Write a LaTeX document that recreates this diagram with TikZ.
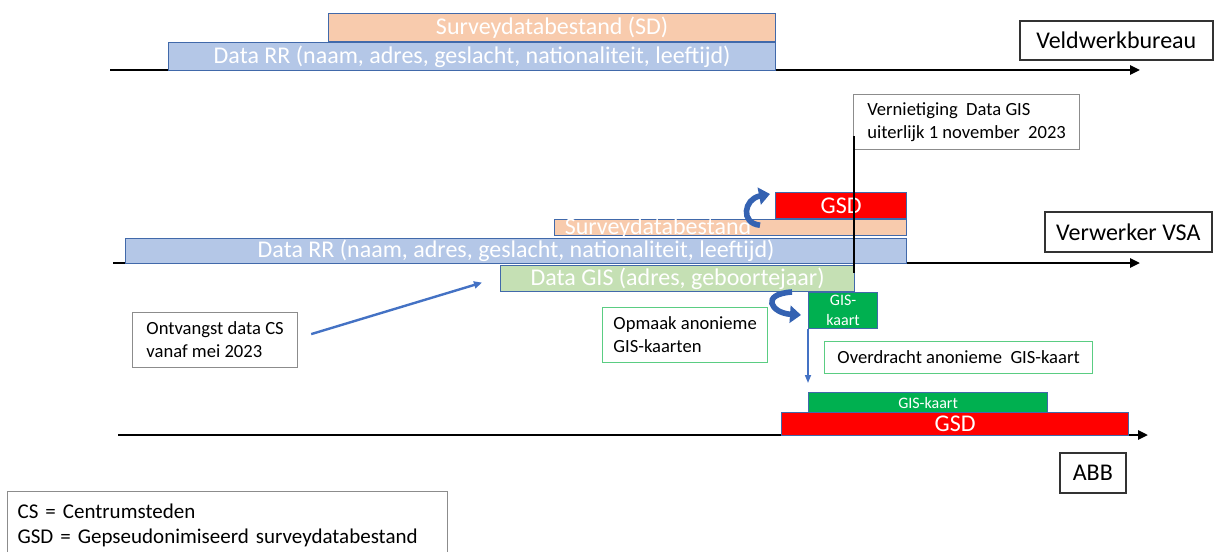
\documentclass[tikz,border=0pt]{standalone}
\usepackage{fontspec}
\setmainfont{Carlito}
\usetikzlibrary{arrows.meta}
\definecolor{rrblue}{RGB}{180,199,231}
\definecolor{sdpeach}{RGB}{248,203,173}
\definecolor{gsdred}{RGB}{255,0,0}
\definecolor{gislight}{RGB}{197,224,180}
\definecolor{kaartgreen}{RGB}{0,176,80}
\definecolor{barline}{RGB}{65,105,170}
\definecolor{arrowblue}{RGB}{68,114,196}
\definecolor{curlblue}{RGB}{52,98,178}
\definecolor{notegreen}{RGB}{90,205,130}
\tikzset{
  box/.style={anchor=north west, inner sep=0pt},
  bar/.style={
    box,
    draw=barline,
    line width=0.6pt,
    text=white,
    font=\fontsize{12}{13}\selectfont
  },
  bar-rr/.style={bar, fill=rrblue},
  bar-sd/.style={bar, fill=sdpeach},
  bar-gsd/.style={bar, fill=gsdred},
  bar-gis/.style={bar, fill=gislight},
  bar-kaart/.style={bar, fill=kaartgreen, font=\fontsize{8}{10}\selectfont, align=center},
  actor/.style={box, draw=black!80, line width=0.8pt, font=\fontsize{12}{14}\selectfont},
  note/.style={box, draw=black!45, line width=0.6pt, align=left, font=\fontsize{9.3}{11.5}\selectfont},
  note-green/.style={note, draw=notegreen},
  timeline/.style={line width=1.3pt, -{Triangle[length=5pt,width=4.5pt]}},
  curl/.style={draw=curlblue, line width=2.8pt, -{Triangle[length=5.5pt,width=8.5pt]}},
  feed/.style={draw=arrowblue, line width=1.2pt, -{Triangle[length=4pt,width=3.5pt]}},
  drop/.style={draw=arrowblue, line width=0.8pt, -{Triangle[length=4pt,width=3pt]}},
  cutline/.style={draw=black, line width=0.6pt}
}

\begin{document}
\begin{tikzpicture}[x=0.5pt, y=-0.5pt]
  \useasboundingbox (0,0) rectangle (1219,551);
  % time axes
  \coordinate (t1-start) at (110,70);
  \coordinate (t1-end) at (1140,70);
  \coordinate (t2-start) at (113,263);
  \coordinate (t2-end) at (1140,263);
  \coordinate (t3-start) at (118,435);
  \coordinate (t3-end) at (1148,435);
  \draw[timeline] (t1-start) -- (t1-end);
  \draw[timeline] (t2-start) -- (t2-end);
  \draw[timeline] (t3-start) -- (t3-end);

  % Veldwerkbureau
  \node[bar-sd, minimum width=223.5pt, minimum height=14pt] (sd-top) at (328,13) {Surveydatabestand (SD)};
  \node[bar-rr, minimum width=303.5pt, minimum height=14pt] (rr-top) at (168,42) {Data RR (naam, adres, geslacht, nationaliteit, leeftijd)};
  \node[actor, minimum width=96.5pt, minimum height=19.5pt] (veld) at (1019,20) {Veldwerkbureau\hspace{6pt}};

  % Verwerker VSA
  \node[bar-gsd, minimum width=65.5pt, minimum height=13pt] (gsd-mid) at (775,192) {GSD};
  \node[bar-sd, minimum width=176pt, minimum height=8pt] (sd-mid) at (554,219) {};
  \node[anchor=base, text=white, font=\fontsize{12}{13}\selectfont] (sd-mid-text) at (658,234) {Surveydatabestand};
  \node[bar-rr, minimum width=390.5pt, minimum height=12.5pt] (rr-mid) at (125,238) {Data RR (naam, adres, geslacht, nationaliteit, leeftijd)};
  \node[bar-gis, minimum width=177pt, minimum height=13pt] (gis-data) at (500,265) {Data GIS (adres, geboortejaar)};
  \node[bar-kaart, minimum width=34.5pt, minimum height=18pt] (gis-small) at (808,292) {GIS-\\kaart};
  \node[actor, minimum width=83.5pt, minimum height=20pt] (vsa) at (1044,211) {Verwerker VSA};
  \node[note, minimum width=113pt, minimum height=27.5pt] (vern) at (853,94) {Vernietiging\ \ Data GIS\\uiterlijk 1 november\ \ 2023};
  \node[note, minimum width=82.5pt, minimum height=27.5pt] (ontv) at (132,312) {Ontvangst data CS\\vanaf mei 2023};
  \node[note-green, minimum width=82.5pt, minimum height=27.5pt] (opmaak) at (602,307) {Opmaak anonieme\\GIS-kaarten};
  \node[note-green, minimum width=134pt, minimum height=16pt] (overdracht) at (824,341) {Overdracht anonieme\ \ GIS-kaart};

  % ABB
  \node[bar-kaart, minimum width=119.5pt, minimum height=10pt] (gis-bot) at (808,392) {GIS-kaart};
  \node[bar-gsd, minimum width=173.5pt, minimum height=11.5pt] (gsd-bot) at (781,412) {GSD};
  \node[actor, minimum width=33pt, minimum height=20pt] (abb) at (1059,452) {ABB};

  % legend
  \node[note, text width=210pt, inner xsep=5pt, inner ysep=3.5pt,
    minimum height=34pt, font=\fontsize{10.5}{12.5}\selectfont] (legend) at (7,491)
    {CS = Centrumsteden\\GSD = Gepseudonimiseerd surveydatabestand};

  % arrows
  \coordinate (gis-cut) at (854,273);
  \draw[cutline] ([shift={(1,-14)}]vern.south west) -- (gis-cut);
  \draw[curl] ([shift={(-15,6)}]gsd-mid.south west)
    .. controls +(-20,-2) and +(-26,5) .. ([shift={(-5,2)}]gsd-mid.north west);
  \draw[curl] ([shift={(-16,0)}]gis-small.north west)
    .. controls +(-32,2) and +(-30,-2) .. ([shift={(-7,23)}]gis-small.north west);
  \draw[feed] ([shift={(13,-6)}]ontv.east) -- ([shift={(-18,4)}]gis-data.west);
  \draw[drop] (gis-small.south west) -- ([shift={(0,-9)}]gis-bot.north west);
\end{tikzpicture}
\end{document}
